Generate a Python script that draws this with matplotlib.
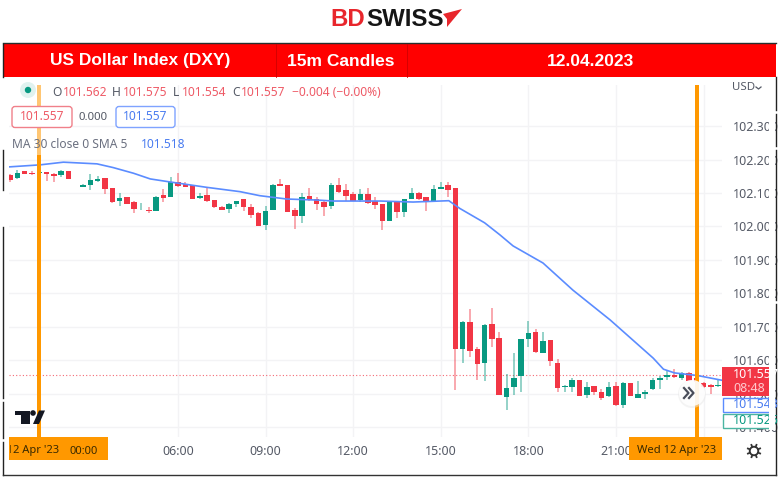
import numpy as np
import matplotlib.pyplot as plt
from matplotlib.patches import Rectangle, Circle, Polygon, FancyBboxPatch

plt.rcParams['font.family'] = ['Noto Sans', 'DejaVu Sans']

# 15m candles of DXY, index 1 is 00:15, 4 candles per hour
idx = np.arange(1, 99)
opens = [102.155, 102.144, 102.166, 102.160, 102.159, 102.164, 102.158, 102.154, 102.165, 102.132,
         102.119, 102.125, 102.135, 102.146, 102.115, 102.075, 102.089, 102.072, 102.051, 102.050,
         102.047, 102.093, 102.088, 102.134, 102.126, 102.124, 102.084, 102.093, 102.080, 102.057,
         102.051, 102.068, 102.081, 102.059, 102.040, 102.003, 102.049, 102.127, 102.124, 102.050,
         102.031, 102.090, 102.082, 102.072, 102.061, 102.124, 102.109, 102.098, 102.080, 102.096,
         102.076, 102.066, 102.017, 102.074, 102.044, 102.082, 102.099, 102.087, 102.074, 102.113,
         102.124, 102.115, 101.635, 101.714, 101.633, 101.592, 101.708, 101.668, 101.491, 101.522,
         101.553, 101.665, 101.686, 101.623, 101.662, 101.593, 101.520, 101.522, 101.543, 101.498,
         101.525, 101.505, 101.494, 101.524, 101.468, 101.534, 101.489, 101.500, 101.514, 101.542,
         101.550, 101.558, 101.549, 101.562, 101.548, 101.534, 101.526, 101.524]
highs = [102.157, 102.169, 102.167, 102.165, 102.167, 102.164, 102.159, 102.169, 102.165, 102.133,
         102.126, 102.156, 102.151, 102.146, 102.115, 102.099, 102.089, 102.076, 102.071, 102.059,
         102.090, 102.111, 102.149, 102.159, 102.134, 102.124, 102.101, 102.116, 102.080, 102.061,
         102.071, 102.077, 102.081, 102.067, 102.044, 102.062, 102.126, 102.143, 102.124, 102.056,
         102.101, 102.115, 102.089, 102.076, 102.131, 102.146, 102.127, 102.104, 102.111, 102.115,
         102.089, 102.067, 102.077, 102.077, 102.082, 102.115, 102.104, 102.089, 102.124, 102.132,
         102.132, 102.115, 101.719, 101.755, 101.641, 101.709, 101.756, 101.686, 101.559, 101.621,
         101.664, 101.718, 101.693, 101.684, 101.662, 101.603, 101.526, 101.549, 101.543, 101.536,
         101.525, 101.516, 101.537, 101.537, 101.537, 101.534, 101.540, 101.512, 101.547, 101.554,
         101.571, 101.574, 101.566, 101.566, 101.550, 101.537, 101.530, 101.542]
lows = [102.133, 102.141, 102.156, 102.153, 102.151, 102.137, 102.134, 102.149, 102.141, 102.132,
        102.117, 102.109, 102.133, 102.097, 102.071, 102.062, 102.066, 102.041, 102.050, 102.041,
        102.046, 102.074, 102.087, 102.119, 102.117, 102.082, 102.081, 102.074, 102.056, 102.048,
        102.040, 102.057, 102.047, 102.026, 102.000, 101.990, 102.048, 102.120, 102.043, 101.993,
        102.009, 102.077, 102.049, 102.031, 102.051, 102.099, 102.077, 102.076, 102.073, 102.068,
        102.051, 101.990, 102.016, 102.024, 102.027, 102.081, 102.080, 102.047, 102.073, 102.111,
        102.087, 101.513, 101.593, 101.611, 101.543, 101.539, 101.641, 101.496, 101.451, 101.498,
        101.507, 101.641, 101.623, 101.621, 101.583, 101.507, 101.505, 101.507, 101.493, 101.489,
        101.498, 101.483, 101.492, 101.464, 101.457, 101.493, 101.487, 101.486, 101.512, 101.515,
        101.542, 101.549, 101.542, 101.539, 101.532, 101.518, 101.499, 101.522]
closes = [102.139, 102.161, 102.157, 102.157, 102.164, 102.156, 102.152, 102.166, 102.142, 102.133,
          102.123, 102.140, 102.143, 102.113, 102.072, 102.084, 102.067, 102.051, 102.052, 102.046,
          102.089, 102.084, 102.133, 102.120, 102.118, 102.083, 102.090, 102.076, 102.057, 102.050,
          102.067, 102.075, 102.058, 102.033, 102.001, 102.046, 102.124, 102.121, 102.044, 102.031,
          102.089, 102.078, 102.067, 102.057, 102.124, 102.103, 102.090, 102.077, 102.096, 102.069,
          102.063, 102.015, 102.075, 102.044, 102.081, 102.099, 102.081, 102.072, 102.111, 102.118,
          102.110, 101.633, 101.714, 101.628, 101.591, 101.706, 101.663, 101.497, 101.518, 101.549,
          101.663, 101.683, 101.624, 101.657, 101.597, 101.517, 101.523, 101.541, 101.494, 101.522,
          101.506, 101.487, 101.522, 101.466, 101.534, 101.495, 101.500, 101.507, 101.542, 101.549,
          101.558, 101.550, 101.562, 101.540, 101.536, 101.520, 101.522, 101.526]

ma_idx = [0.9, 5.1, 8.3, 12.9, 15.1, 17.9, 20.2, 22.9, 27.9, 32.5, 35.2, 38.9, 43, 45.3, 51.7, 56.2,
          61.1, 62.6, 66, 68.1, 69.9, 74, 78.1, 83.2, 89.1, 90.5, 92, 95.2, 98.5]
ma_val = [102.178, 102.184, 102.192, 102.187, 102.176, 102.159, 102.142, 102.133, 102.117, 102.104,
          102.092, 102.082, 102.079, 102.076, 102.076, 102.073, 102.077, 102.054, 102.011, 101.975,
          101.942, 101.891, 101.810, 101.721, 101.607, 101.574, 101.563, 101.555, 101.541]

price_ticks = [101.4, 101.5, 101.6, 101.7, 101.8, 101.9, 102.0, 102.1, 102.2, 102.3]
time_ticks = [24, 36, 48, 60, 72, 84, 96]
time_labels = ['06:00', '09:00', '12:00', '15:00', '18:00', '21:00', '']
last_price = 101.557

UP = '#089981'
DOWN = '#F23645'
ORANGE = '#FF9800'
BLUE = '#5B8CFF'
GREY = '#555a66'


def px(size):
    return size * 0.72


fig = plt.figure(figsize=(7.8, 4.8), dpi=100, facecolor='white')
ax = fig.add_axes([9 / 780, 43 / 480, 713 / 780, 352 / 480])
ax.set_xlim(0.85, 98.52)
ax.set_ylim(101.3716, 102.4224)

o = np.array(opens)
c = np.array(closes)
cols = [UP if b >= a else DOWN for a, b in zip(o, c)]
ax.vlines(idx, lows, highs, colors=cols, lw=1.1, alpha=0.55, zorder=3)
ax.bar(idx, np.abs(c - o), bottom=np.minimum(o, c), width=0.76, color=cols, zorder=4)
ax.plot(ma_idx, ma_val, color=BLUE, lw=1.2, zorder=5)
ax.axhline(last_price, color=DOWN, lw=0.8, ls=(0, (1, 2)), alpha=0.75, zorder=2)

ax.set_xticks(time_ticks, time_labels)
ax.set_yticks(price_ticks, ['%.3f' % p for p in price_ticks])
ax.yaxis.tick_right()
ax.tick_params(axis='x', length=0, pad=6, labelsize=px(12.5), labelcolor=GREY)
ax.tick_params(axis='y', length=0, pad=7.5, labelsize=px(12.5), labelcolor=GREY)
ax.grid(color='#f3f3f5', lw=1)
ax.set_axisbelow(True)
for s in ax.spines.values():
    s.set_visible(False)

# everything around the chart is placed in figure pixels
ov = fig.add_axes([0, 0, 1, 1], facecolor='none')
ov.set_xlim(0, 780)
ov.set_ylim(480, 0)
ov.axis('off')

# logo
ov.text(330, 20, 'BD', color='#e8262c', fontsize=px(24), fontweight='bold', family='Liberation Sans', va='center')
ov.text(366, 20, 'SWISS', color='#151515', fontsize=px(24), fontweight='bold', family='Liberation Sans', va='center')
ov.add_patch(Polygon([[443, 14], [462, 9], [447, 27], [447, 19]], color='#e8262c', lw=0))

# banner
ov.add_patch(Rectangle((2.5, 43.5), 773.5, 33.5, color='#ff0000', lw=0))
ov.plot([2.5, 776], [43.3, 43.3], color='#26302e', lw=1)
ov.plot([275.5, 275.5], [44, 77], color='#d00000', lw=0.6)
ov.plot([406.5, 406.5], [44, 77], color='#d00000', lw=0.6)
for x, label in [(140, 'US Dollar Index (DXY)'), (341, '15m Candles'), (591, '12.04.2023')]:
    ov.text(x, 61, label, color='white', fontsize=px(17.4), fontweight='bold', family='Liberation Sans',
            ha='center', va='center')

# frame pieces of the table around the screenshot
for y0, y1 in [(44, 77), (150, 190), (227, 398), (402, 438), (442, 475)]:
    ov.plot([2.5, 2.5], [y0, y1], color='#222222', lw=1)
for y0, y1 in [(77, 110), (114, 146), (150, 300), (304, 475)]:
    ov.plot([776, 776], [y0, y1], color='#222222', lw=1)
ov.plot([2.5, 776], [475, 475], color='#333333', lw=1)

# orange markers
ov.add_patch(Rectangle((36.7, 85), 3.8, 70, color=ORANGE, alpha=0.55, lw=0))
ov.add_patch(Rectangle((36.7, 155), 3.8, 282, color=ORANGE, lw=0))
ov.add_patch(Rectangle((695, 85), 3.8, 352, color=ORANGE, lw=0))
ov.add_patch(Rectangle((9, 437), 99, 23, color=ORANGE, lw=0))
ov.add_patch(Rectangle((629, 437), 93, 23, color=ORANGE, lw=0))
t = ov.text(-20, 451, "Wed 12 Apr '23", color='#3a2a00', fontsize=px(11.2), va='center', clip_on=True)
t.set_clip_path(Rectangle((9.5, 437), 99, 23, transform=ov.transData))
ov.text(70, 451, '00:00', color='#3a2a00', fontsize=px(11.2), va='center')
ov.text(677, 451, "Wed 12 Apr '23", color='#3a2a00', fontsize=px(11.2), ha='center', va='center')

# legend rows
ov.add_patch(Circle((28, 90), 8, color=UP, alpha=0.12, lw=0))
ov.add_patch(Circle((28, 90), 3.2, color=UP, lw=0))
x_pos = [52, 63, 112, 123, 173, 182, 232, 241]
parts = ['O', '101.562', 'H', '101.575', 'L', '101.554', 'C', '101.557']
for x, s in zip(x_pos, parts):
    ov.text(x, 92, s, color=GREY if len(s) == 1 else '#ee5a66', fontsize=px(12), va='center')
ov.text(292, 92, '\u22120.004 (\u22120.00%)', color='#ee5a66', fontsize=px(12), va='center')
ov.add_patch(FancyBboxPatch((12, 106.5), 60, 21, boxstyle='round,pad=0,rounding_size=3', fc='white', ec='#f0808a', lw=1))
ov.text(42, 117, '101.557', color='#ee5a66', fontsize=px(12), ha='center', va='center')
ov.text(93, 117, '0.000', color=GREY, fontsize=px(11.5), ha='center', va='center')
ov.add_patch(FancyBboxPatch((116, 106.5), 59, 21, boxstyle='round,pad=0,rounding_size=3', fc='white', ec='#7fa3ff', lw=1))
ov.text(145.5, 117, '101.557', color='#4a7cf0', fontsize=px(12), ha='center', va='center')
ov.text(12, 144, 'MA 30 close 0 SMA 5', color='#6b7080', fontsize=px(12), va='center')
ov.text(141, 144, '101.518', color='#4a7cf0', fontsize=px(12), va='center')

# price scale
ov.text(732, 88, 'USD', color=GREY, fontsize=px(11.5), va='center')
ov.plot([756, 758.5, 761], [87, 89, 87], color=GREY, lw=0.9)
ov.add_patch(Rectangle((722, 367), 47, 29, color=DOWN, lw=0))
ov.text(733, 375, '101.557', color='white', fontsize=px(12.5), fontweight='bold', va='center')
ov.text(733, 389, '08:48', color='#ffc9ce', fontsize=px(12.5), va='center')
ov.add_patch(Rectangle((722.5, 397.5), 50, 14, fc='white', ec=BLUE, lw=1))
ov.text(733, 404.5, '101.543', color='#4a7cf0', fontsize=px(12.5), va='center')
ov.add_patch(Rectangle((722.5, 413.5), 50, 14, fc='white', ec='#4ab5a2', lw=1))
ov.text(733, 420.5, '101.525', color=UP, fontsize=px(12.5), va='center')
ov.add_patch(Rectangle((769, 85), 6.3, 345, color='white', lw=0, zorder=6))

# scroll button
ov.add_patch(Circle((692, 394), 14, color='#e8e8e8', alpha=0.5, lw=0))
ov.add_patch(Circle((692, 393), 13, color='white', alpha=0.85, lw=0))
for dx in [-3.5, 1.5]:
    ov.plot([687.5 + dx, 692 + dx, 687.5 + dx], [388, 393, 398], color='#4a4e5a', lw=1.6)

# tradingview mark
ov.add_patch(Polygon([[15, 410.5], [29.5, 410.5], [29.5, 424], [21, 424], [21, 415], [15, 415]], color='#131722', lw=0))
ov.add_patch(Circle((33, 413), 2.8, color='#131722', lw=0))
ov.add_patch(Polygon([[39, 410.5], [45, 410.5], [39, 424], [33, 424]], color='#131722', lw=0))

# gear
ov.add_patch(Circle((754, 451), 4.3, fill=False, ec='#333333', lw=1.3))
for a in np.arange(0, 360, 45):
    r = np.deg2rad(a + 22)
    ov.plot([754 + 4.3 * np.cos(r), 754 + 6.6 * np.cos(r)], [451 + 4.3 * np.sin(r), 451 + 6.6 * np.sin(r)],
            color='#333333', lw=1.3)

fig.savefig('out.png', dpi=100)
